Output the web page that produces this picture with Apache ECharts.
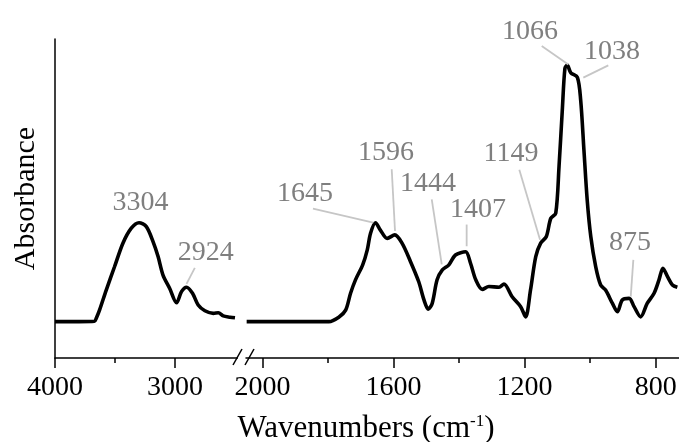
<!DOCTYPE html>
<html><head><meta charset="utf-8">
<script src="https://cdn.jsdelivr.net/npm/echarts@6/dist/echarts.min.js"></script>
<style>html,body{margin:0;padding:0;background:#fff}#c{width:679px;height:442px}</style>
</head><body><div id="c"></div>
<script>
// ---- data ----
const leftWavenumbers = [4000, 3800, 3671, 3657, 3629, 3573, 3504, 3434, 3364, 3300, 3239, 3183, 3141, 3100, 3044, 2987, 2946, 2904, 2854, 2807, 2751, 2681, 2639, 2598, 2541, 2500];
const leftAbsorbance = [0.114, 0.114, 0.115, 0.124, 0.150, 0.213, 0.286, 0.360, 0.407, 0.424, 0.412, 0.365, 0.318, 0.260, 0.218, 0.173, 0.208, 0.222, 0.203, 0.166, 0.148, 0.140, 0.142, 0.132, 0.128, 0.126];
const rightWavenumbers = [2048, 1920, 1797, 1767, 1746, 1731, 1716, 1694, 1680, 1670, 1655, 1640, 1619, 1596, 1574, 1548, 1523, 1507, 1494, 1482, 1467, 1451, 1431, 1411, 1380, 1365, 1349, 1329, 1309, 1278, 1263, 1238, 1212, 1197, 1182, 1166, 1151, 1134, 1120, 1105, 1095, 1085, 1077, 1070, 1059, 1039, 1029, 1019, 1009, 998, 983, 968, 953, 932, 917, 902, 881, 866, 846, 826, 805, 790, 778, 764, 749, 734];
const rightAbsorbance = [0.114, 0.114, 0.114, 0.128, 0.150, 0.203, 0.245, 0.292, 0.339, 0.391, 0.424, 0.401, 0.375, 0.386, 0.360, 0.302, 0.239, 0.182, 0.153, 0.171, 0.245, 0.276, 0.292, 0.323, 0.333, 0.297, 0.245, 0.215, 0.224, 0.222, 0.232, 0.192, 0.161, 0.129, 0.213, 0.318, 0.360, 0.380, 0.438, 0.454, 0.600, 0.777, 0.908, 0.918, 0.894, 0.880, 0.809, 0.652, 0.495, 0.380, 0.286, 0.229, 0.213, 0.171, 0.145, 0.182, 0.187, 0.161, 0.129, 0.171, 0.203, 0.245, 0.281, 0.255, 0.229, 0.222];
const peakLabels = ['3304', '2924', '1645', '1596', '1444', '1407', '1149', '1066', '1038', '875'];
const peakWavenumbers = [3304, 2924, 1645, 1596, 1444, 1407, 1149, 1066, 1038, 875];
const leftMajorTicks = [4000, 3000];
const leftMinorTicks = [3500];
const rightMajorTicks = [2000, 1600, 1200, 800];
const rightMinorTicks = [1800, 1400, 1000];
const xTitle = 'Wavenumbers (cm{sup|-1})';
const yTitle = 'Absorbance';

// ---- annotation layout: pixel offsets from the peak point on the curve ----
const annotationLayout = [
  { text: [2, -21] },
  { text: [21.7, -37.4], line: [[2.4, -5.4], [10.7, -21.4]] },
  { text: [-73.8, -34.8], line: [[-5.5, -5.1], [-65.8, -19.1]] },
  { text: [-8.8, -83.6], line: [[0.2, -3.9], [-3.1, -65.6]] },
  { text: [-16.6, -85.9], line: [[-2.9, -3.9], [-12.9, -68.9]] },
  { text: [21.2, -46], line: [[9.9, -8.3], [9.9, -30]] },
  { text: [-30.3, -89.3], line: [[-1.3, -2.6], [-22, -72.6]] },
  { text: [-38.5, -37.2], line: [[-0.2, -3.5], [-26.8, -21.9]] },
  { text: [34.3, -28.9], line: [[5.6, -1.9], [30.6, -14.2]] },
  { text: [-1.1, -60.1], line: [[-0.4, -5.1], [2.2, -41.8]] }
];
const TEXT_DY = 1;

function interp(xs, ys, x) {
  for (let i = 0; i < xs.length - 1; i++) {
    const a = xs[i], b = xs[i + 1];
    if ((x <= a && x >= b) || (x >= a && x <= b)) {
      const t = (x - a) / (b - a);
      return ys[i] + t * (ys[i + 1] - ys[i]);
    }
  }
  return ys[ys.length - 1];
}

const leftAnn = [], rightAnn = [];
peakWavenumbers.forEach((w, i) => {
  if (w > 2300) leftAnn.push([w, interp(leftWavenumbers, leftAbsorbance, w), i]);
  else rightAnn.push([w, interp(rightWavenumbers, rightAbsorbance, w), i]);
});

function renderAnnotation(params, api) {
  const idx = api.value(2);
  const p = api.coord([api.value(0), api.value(1)]);
  const L = annotationLayout[idx];
  const children = [];
  if (L.line) {
    children.push({
      type: 'line',
      shape: { x1: p[0] + L.line[0][0], y1: p[1] + L.line[0][1], x2: p[0] + L.line[1][0], y2: p[1] + L.line[1][1] },
      style: { stroke: '#c6c6c6', lineWidth: 1.8 }
    });
  }
  children.push({
    type: 'text',
    style: {
      text: peakLabels[idx], x: p[0] + L.text[0], y: p[1] + L.text[1] + TEXT_DY,
      fill: '#7f7f7f', fontSize: 28, fontFamily: 'Liberation Serif',
      align: 'center', verticalAlign: 'middle'
    }
  });
  return { type: 'group', children };
}

const FONT = 'Liberation Serif';
const axisLineStyle = { color: '#000', width: 1.5 };
const labelStyle = { color: '#000', fontSize: 28, fontFamily: FONT, margin: 16, formatter: v => String(v) };

function xAxisPair(gridIndex, min, max, major, minor) {
  return [
    {
      type: 'value', gridIndex, min, max, inverse: true, position: 'bottom',
      axisLine: { show: true, lineStyle: axisLineStyle, onZero: false },
      axisTick: { show: true, length: 10, lineStyle: axisLineStyle, customValues: major },
      axisLabel: Object.assign({ customValues: major }, labelStyle),
      splitLine: { show: false }
    },
    {
      type: 'value', gridIndex, min, max, inverse: true, position: 'bottom',
      axisLine: { show: false, onZero: false },
      axisTick: { show: true, length: 5, lineStyle: axisLineStyle, customValues: minor },
      axisLabel: { show: false },
      splitLine: { show: false }
    }
  ];
}

const chart = echarts.init(document.getElementById('c'), null, { renderer: 'canvas' });
chart.setOption({
  animation: false,
  backgroundColor: '#fff',
  grid: [
    { left: 55, top: 39, width: 182.4, height: 319, outerBoundsMode: 'none', containLabel: false },
    { left: 246, top: 39, width: 434.3, height: 319, outerBoundsMode: 'none', containLabel: false }
  ],
  xAxis: [
    ...xAxisPair(0, 2480, 4000, leftMajorTicks, leftMinorTicks),
    ...xAxisPair(1, 725, 2050, rightMajorTicks, rightMinorTicks)
  ],
  yAxis: [
    {
      type: 'value', gridIndex: 0, min: 0, max: 1,
      axisLine: { show: true, lineStyle: axisLineStyle },
      axisTick: { show: false }, axisLabel: { show: false }, splitLine: { show: false },
      name: yTitle, nameLocation: 'middle', nameGap: 14,
      nameTextStyle: { color: '#000', fontSize: 30, fontFamily: FONT }
    },
    {
      type: 'value', gridIndex: 1, min: 0, max: 1, show: false
    }
  ],
  series: [
    {
      type: 'line', xAxisIndex: 0, yAxisIndex: 0,
      data: leftWavenumbers.map((w, i) => [w, leftAbsorbance[i]]),
      showSymbol: false, smooth: 0.3,
      lineStyle: { color: '#000', width: 3.6 }
    },
    {
      type: 'line', xAxisIndex: 2, yAxisIndex: 1,
      data: rightWavenumbers.map((w, i) => [w, rightAbsorbance[i]]),
      showSymbol: false, smooth: 0.3,
      lineStyle: { color: '#000', width: 3.6 }
    },
    {
      type: 'custom', xAxisIndex: 0, yAxisIndex: 0, clip: false, z: 5,
      renderItem: renderAnnotation, data: leftAnn
    },
    {
      type: 'custom', xAxisIndex: 2, yAxisIndex: 1, clip: false, z: 5,
      renderItem: renderAnnotation, data: rightAnn
    }
  ],
  graphic: [
    { type: 'line', shape: { x1: 233, y1: 365, x2: 242, y2: 349 }, style: { stroke: '#000', lineWidth: 1.5 } },
    { type: 'line', shape: { x1: 245, y1: 365, x2: 254, y2: 349 }, style: { stroke: '#000', lineWidth: 1.5 } },
    {
      type: 'text', x: 366, y: 429,
      style: {
        text: xTitle, fill: '#000', fontSize: 31, fontFamily: FONT,
        align: 'center', verticalAlign: 'middle',
        rich: { sup: { fontSize: 17, fontFamily: FONT, fill: '#000', verticalAlign: 'top' } }
      }
    }
  ]
});
</script>
</body></html>
